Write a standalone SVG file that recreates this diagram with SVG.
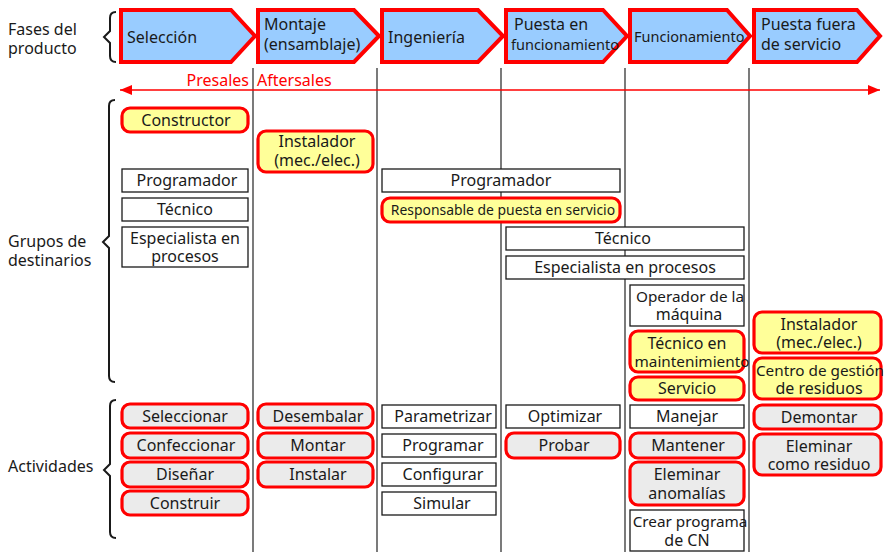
<svg xmlns="http://www.w3.org/2000/svg" width="888" height="552" viewBox="0 0 888 552">
<defs>
<style>
text{font-family:"Noto Sans","Open Sans","DejaVu Sans",sans-serif;font-size:16px;fill:#1a1a1a}
.c{text-anchor:middle}
.phase{fill:#99ccff;stroke:#ff0000;stroke-width:4;stroke-linejoin:miter}
.box{fill:#ffffff;stroke:#1a1a1a;stroke-width:1.3}
.ry{fill:#ffff99;stroke:#ff0000;stroke-width:3.2}
.rg{fill:#ebebeb;stroke:#ff0000;stroke-width:3.2}
.col{stroke:#333333;stroke-width:1.3;fill:none}
.brace{stroke:#1a1a1a;stroke-width:2;fill:none}
.red{fill:#ff0000}
.sm{font-size:14.5px}
.nr{font-size:15.3px}
</style>
<marker id="ah" markerWidth="12" markerHeight="10" refX="12" refY="5" orient="auto-start-reverse" markerUnits="userSpaceOnUse">
<path d="M0,0 L12,5 L0,10 z" fill="#ff0000"/>
</marker>
</defs>
<rect width="888" height="552" fill="#ffffff"/>

<g id="labels">
<text x="8" y="35">Fases del</text>
<text x="8" y="54">producto</text>
<text x="8" y="247">Grupos de</text>
<text x="8" y="266">destinarios</text>
<text x="8" y="472">Actividades</text>
</g>

<g id="braces">
<path class="brace" d="M116,12 Q110,12 110,18 L110,31 L104,37 L110,43 L110,56 Q110,62 116,62"/>
<path class="brace" d="M115,100 Q109,100 109,106 L109,236 L103,242 L109,248 L109,376 Q109,382 115,382"/>
<path class="brace" d="M116,400 Q110,400 110,406 L110,464 L104,470 L110,476 L110,532 Q110,538 116,538"/>
</g>

<g id="connectors">
<line class="col" x1="253" y1="68" x2="253" y2="552"/>
<line class="col" x1="377" y1="68" x2="377" y2="552"/>
<line class="col" x1="501" y1="68" x2="501" y2="552"/>
<line class="col" x1="625" y1="68" x2="625" y2="552"/>
<line class="col" x1="749" y1="68" x2="749" y2="552"/>
<line x1="120" y1="90" x2="880" y2="90" stroke="#ff0000" stroke-width="1.3" marker-start="url(#ah)" marker-end="url(#ah)"/>
<text class="red" x="249" y="86" text-anchor="end" style="fill:#ff0000">Presales</text>
<text class="red" x="257" y="86" style="fill:#ff0000">Aftersales</text>
</g>

<g id="phase-seleccion">
<polygon class="phase" points="121,10 231,10 255,36 231,62 121,62"/>
<text x="127" y="43">Selección</text>
</g>
<g id="phase-montaje">
<polygon class="phase" points="258,10 354,10 379,36 354,62 258,62"/>
<text x="264" y="30">Montaje</text>
<text x="264" y="50">(ensamblaje)</text>
</g>
<g id="phase-ingenieria">
<polygon class="phase" points="382,10 478,10 503,36 478,62 382,62"/>
<text x="388" y="43">Ingeniería</text>
</g>
<g id="phase-puesta">
<polygon class="phase" points="506,10 603,10 627,36 603,62 506,62"/>
<text x="514" y="30">Puesta en</text>
<text class="sm" x="511" y="50">funcionamiento</text>
</g>
<g id="phase-funcionamiento">
<polygon class="phase" points="630,10 727,10 750,36 727,62 630,62"/>
<text class="sm" x="634" y="42">Funcionamiento</text>
</g>
<g id="phase-fuera">
<polygon class="phase" points="754,10 857,10 880,36 857,62 754,62"/>
<text x="761" y="30">Puesta fuera</text>
<text x="761" y="50">de servicio</text>
</g>

<!-- Grupos de destinarios -->
<g id="n-constructor"><rect class="ry" x="122" y="108" width="126" height="24" rx="8"/><text class="c" x="186" y="126">Constructor</text></g>
<g id="n-instalador1"><rect class="ry" x="258" y="131" width="115" height="41" rx="8"/><text class="c" x="317" y="147">Instalador</text><text class="c" x="317" y="166">(mec./elec.)</text></g>
<g id="n-programador1"><rect class="box" x="122" y="169" width="126" height="23"/><text class="c" x="187" y="186">Programador</text></g>
<g id="n-tecnico1"><rect class="box" x="122" y="198" width="126" height="23"/><text class="c" x="185" y="215">Técnico</text></g>
<g id="n-especialista1"><rect class="box" x="122" y="227" width="126" height="40"/><text class="c" x="185" y="244">Especialista en</text><text class="c" x="185" y="262">procesos</text></g>
<g id="n-programador2"><rect class="box" x="382" y="169" width="238" height="23"/><text class="c" x="501" y="186">Programador</text></g>
<g id="n-responsable"><rect class="ry" x="382" y="198" width="238" height="24" rx="8"/><text class="c" x="503" y="215" style="font-size:13.9px">Responsable de puesta en servicio</text></g>
<g id="n-tecnico2"><rect class="box" x="506" y="227" width="238" height="23"/><text class="c" x="623" y="244">Técnico</text></g>
<g id="n-especialista2"><rect class="box" x="506" y="256" width="238" height="23"/><text class="c" x="625" y="273">Especialista en procesos</text></g>
<g id="n-operador"><rect class="box" x="630" y="285" width="114" height="41"/><text class="c nr" x="690" y="302">Operador de la</text><text class="c" x="689" y="320">máquina</text></g>
<g id="n-tecnico-mant"><rect class="ry" x="630" y="331" width="114" height="41" rx="8"/><text class="c" x="687" y="349">Técnico en</text><text class="c nr" x="692" y="367">maintenimiento</text></g>
<g id="n-servicio"><rect class="ry" x="630" y="377" width="114" height="23" rx="8"/><text class="c" x="687" y="394">Servicio</text></g>
<g id="n-instalador2"><rect class="ry" x="754" y="312" width="127" height="41" rx="8"/><text class="c" x="819" y="330">Instalador</text><text class="c" x="819" y="348">(mec./elec.)</text></g>
<g id="n-centro"><rect class="ry" x="754" y="358" width="127" height="41" rx="8"/><text class="c nr" x="820" y="376">Centro de gestión</text><text class="c" x="819" y="394">de residuos</text></g>

<!-- Actividades -->
<g id="a-seleccionar"><rect class="rg" x="122" y="404" width="126" height="24" rx="8"/><text class="c" x="185" y="422">Seleccionar</text></g>
<g id="a-confeccionar"><rect class="rg" x="122" y="433" width="126" height="25" rx="8"/><text class="c" x="186" y="451">Confeccionar</text></g>
<g id="a-disenar"><rect class="rg" x="122" y="462" width="126" height="25" rx="8"/><text class="c" x="185" y="480">Diseñar</text></g>
<g id="a-construir"><rect class="rg" x="122" y="491" width="126" height="24" rx="8"/><text class="c" x="185" y="509">Construir</text></g>
<g id="a-desembalar"><rect class="rg" x="258" y="404" width="115" height="24" rx="8"/><text class="c" x="318" y="422">Desembalar</text></g>
<g id="a-montar"><rect class="rg" x="258" y="433" width="115" height="25" rx="8"/><text class="c" x="318" y="451">Montar</text></g>
<g id="a-instalar"><rect class="rg" x="258" y="462" width="115" height="25" rx="8"/><text class="c" x="318" y="480">Instalar</text></g>
<g id="a-parametrizar"><rect class="box" x="382" y="405" width="114" height="23"/><text class="c" x="443" y="422">Parametrizar</text></g>
<g id="a-programar"><rect class="box" x="382" y="434" width="114" height="23"/><text class="c" x="443" y="451">Programar</text></g>
<g id="a-configurar"><rect class="box" x="382" y="463" width="114" height="23"/><text class="c" x="443" y="480">Configurar</text></g>
<g id="a-simular"><rect class="box" x="382" y="492" width="114" height="23"/><text class="c" x="442" y="509">Simular</text></g>
<g id="a-optimizar"><rect class="box" x="506" y="405" width="114" height="23"/><text class="c" x="565" y="422">Optimizar</text></g>
<g id="a-probar"><rect class="rg" x="506" y="433" width="114" height="25" rx="8"/><text class="c" x="564" y="451">Probar</text></g>
<g id="a-manejar"><rect class="box" x="630" y="405" width="114" height="23"/><text class="c" x="687" y="422">Manejar</text></g>
<g id="a-mantener"><rect class="rg" x="630" y="433" width="114" height="25" rx="8"/><text class="c" x="688" y="451">Mantener</text></g>
<g id="a-eleminar-anom"><rect class="rg" x="630" y="462" width="114" height="43" rx="8"/><text class="c" x="687" y="480">Eleminar</text><text class="c" x="687" y="499">anomalías</text></g>
<g id="a-crear-cn"><rect class="box" x="630" y="510" width="114" height="41"/><text class="c nr" x="690" y="527">Crear programa</text><text class="c" x="687" y="546">de CN</text></g>
<g id="a-demontar"><rect class="rg" x="754" y="405" width="127" height="24" rx="8"/><text class="c" x="819" y="423">Demontar</text></g>
<g id="a-eleminar-res"><rect class="rg" x="754" y="434" width="127" height="41" rx="8"/><text class="c" x="819" y="452">Eleminar</text><text class="c" x="819" y="470">como residuo</text></g>
</svg>
